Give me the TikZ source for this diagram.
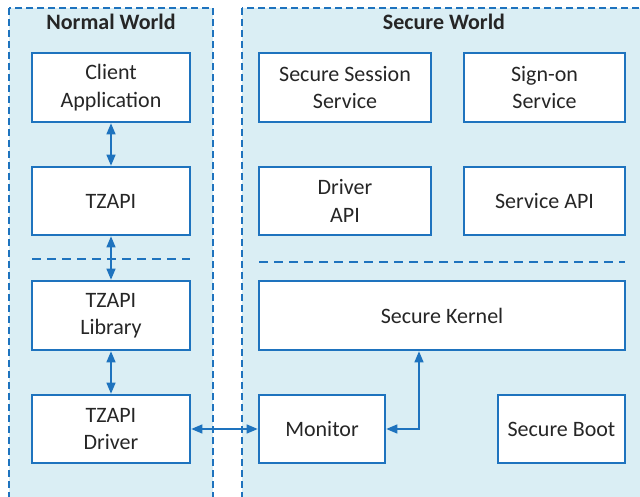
\documentclass[tikz,border=0pt]{standalone}
\usepackage{fontspec}
\setmainfont{Carlito}
\usetikzlibrary{arrows.meta}
\definecolor{bord}{RGB}{30,115,190}
\definecolor{panelfill}{RGB}{218,238,244}
\definecolor{txt}{RGB}{38,38,38}
\begin{document}
\begin{tikzpicture}[x=1pt,y=1pt,
  box/.style={draw=bord, line width=2.6pt, fill=white, align=center, text=txt,
    font=\fontsize{22}{27.5}\selectfont, inner sep=0pt},
  panel/.style={draw=bord, fill=panelfill, line width=1.4pt, dash pattern=on 7pt off 4pt},
  sep/.style={draw=bord, line width=1.4pt, dash pattern=on 9pt off 6pt},
  title/.style={font=\fontsize{22}{26}\selectfont\bfseries, text=txt},
  arr/.style={draw=bord, line width=1.3pt, {Triangle[length=11pt,width=9pt]}-{Triangle[length=11pt,width=9pt]}}
]
\useasboundingbox (0,0) rectangle (640,-497);
\begin{scope}
\clip (0,0) rectangle (640,-497);
\path[panel] (9,-8) rectangle (213,-520);
\path[panel] (242,-8) rectangle (660,-520);
\end{scope}
\node[title] (nwt) at (111,-22) {Normal World};
\node[title] (swt) at (444,-22) {Secure World};

\node[box, minimum width=158, minimum height=69] (client) at (111,-87.5) {Client\\Application};
\node[box, minimum width=158, minimum height=68] (tzapi) at (111,-201) {TZAPI};
\node[box, minimum width=158, minimum height=69] (lib) at (111,-315.5) {TZAPI\\Library};
\node[box, minimum width=158, minimum height=68] (drv) at (111,-429) {TZAPI\\Driver};

\node[box, minimum width=172, minimum height=69] (sess) at (345,-87.5) {Secure Session\\Service};
\node[box, minimum width=161, minimum height=69] (sign) at (544.5,-87.5) {Sign-on\\Service};
\node[box, minimum width=172, minimum height=68] (dapi) at (345,-201) {Driver\\API};
\node[box, minimum width=161, minimum height=68] (sapi) at (544.5,-201) {Service API};
\node[box, minimum width=366, minimum height=69] (kern) at (442,-315.5) {Secure Kernel};
\node[box, minimum width=126, minimum height=68] (mon) at (322,-429) {Monitor};
\node[box, minimum width=127, minimum height=68] (boot) at (561.5,-429) {Secure Boot};

\coordinate (nsl) at (32,-259);
\coordinate (nsr) at (190,-259);
\coordinate (ssl) at (259,-262);
\coordinate (ssr) at (625,-262);
\path[sep] (nsl) -- (nsr);
\path[sep] (ssl) -- (ssr);

\draw[arr] (client.south) -- (tzapi.north);
\draw[arr] (tzapi.south) -- (lib.north);
\draw[arr] (lib.south) -- (drv.north);
\draw[arr] (drv.east) -- (mon.west);
\draw[arr] (mon.east) -| ([xshift=-23pt]kern.south);
\end{tikzpicture}
\end{document}
